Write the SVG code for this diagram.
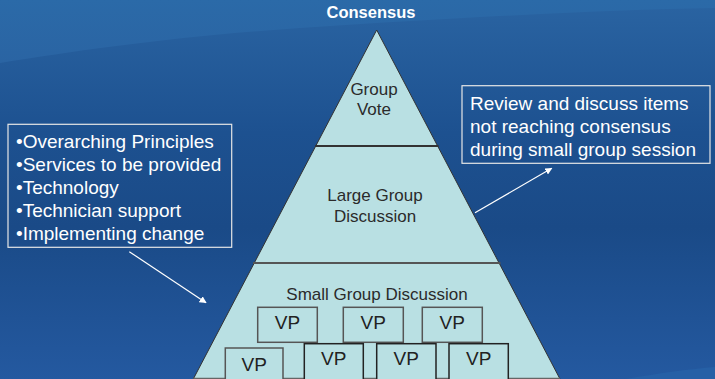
<svg xmlns="http://www.w3.org/2000/svg" width="715" height="379" viewBox="0 0 715 379">
<defs>
<linearGradient id="bg" x1="0" y1="0" x2="0" y2="1">
<stop offset="0" stop-color="#2a64a2"/>
<stop offset="0.35" stop-color="#1d5190"/>
<stop offset="0.6" stop-color="#1a4a87"/>
<stop offset="1" stop-color="#2459a0"/>
</linearGradient>
<linearGradient id="hi" x1="0" y1="0" x2="0" y2="1">
<stop offset="0" stop-color="#2b6aa8"/>
<stop offset="1" stop-color="#2a64a3"/>
</linearGradient>
<marker id="ah" viewBox="0 0 10 10" refX="9" refY="5" markerWidth="7" markerHeight="7" orient="auto" markerUnits="userSpaceOnUse">
<path d="M0,0 L10,5 L0,10 z" fill="#ffffff"/>
</marker>
<style>
.lbl{font-family:"Liberation Sans",Arial,sans-serif;fill:#2b2b2b;font-size:17px;text-anchor:middle}
.vp{font-family:"Liberation Sans",Arial,sans-serif;fill:#222;font-size:19px;text-anchor:middle}
.box{fill:none;stroke:#e6e6e6;stroke-width:1.2}
.wt{font-family:"Liberation Sans",Arial,sans-serif;fill:#ffffff;font-size:19px}
.vpb{fill:#b9e0e3;stroke:#555;stroke-width:1.5}
.vpd{fill:#b9e0e3;stroke:#222;stroke-width:1.5}
.arr{stroke:#ffffff;stroke-width:1.2;fill:none}
</style>
</defs>
<rect x="0" y="0" width="715" height="379" fill="url(#bg)"/>
<path d="M0,0 L715,0 L715,8 C600,10 450,18 300,28 C180,36 80,50 0,63 Z" fill="url(#hi)"/>
<path d="M626,379 C660,373 690,369 715,367 L715,379 Z" fill="#2660a6"/>

<text x="371" y="18" font-family="Liberation Sans,Arial,sans-serif" font-size="16.5" font-weight="bold" fill="#ffffff" text-anchor="middle">Consensus</text>

<g id="pyramid">
<path d="M376.7,30 L560,379 L193.3,379 Z" fill="#b9e0e3" stroke="#333" stroke-width="1"/>
<line x1="315" y1="146" x2="438.5" y2="146" stroke="#333" stroke-width="2"/>
<line x1="253" y1="263" x2="500.5" y2="263" stroke="#555" stroke-width="2"/>
<line x1="193.3" y1="378.5" x2="560" y2="378.5" stroke="#666" stroke-width="1.5"/>
</g>

<g id="group-vote">
<text class="lbl" x="374" y="95">Group</text>
<text class="lbl" x="374" y="114.5">Vote</text>
</g>

<g id="large-group">
<text class="lbl" x="375" y="200.5">Large Group</text>
<text class="lbl" x="375" y="221.5">Discussion</text>
</g>

<g id="small-group">
<text class="lbl" x="377" y="299.5">Small Group Discussion</text>
</g>

<g id="vp1"><rect class="vpb" x="257.7" y="307.3" width="59.6" height="35"/><text class="vp" x="287.5" y="328.5">VP</text></g>
<g id="vp2"><rect class="vpb" x="343.3" y="307.3" width="60" height="35"/><text class="vp" x="373.3" y="328.5">VP</text></g>
<g id="vp3"><rect class="vpb" x="422.3" y="307.3" width="60" height="35"/><text class="vp" x="452.3" y="328.5">VP</text></g>
<g id="vp4"><rect class="vpb" x="225.3" y="348" width="57.7" height="35"/><text class="vp" x="254.2" y="371">VP</text></g>
<g id="vp5"><rect class="vpd" x="304.3" y="343.7" width="59" height="40"/><text class="vp" x="333.8" y="365">VP</text></g>
<g id="vp6"><rect class="vpd" x="376.7" y="343.7" width="59.3" height="40"/><text class="vp" x="406.3" y="365">VP</text></g>
<g id="vp7"><rect class="vpd" x="449" y="343.7" width="59.3" height="40"/><text class="vp" x="478.7" y="365">VP</text></g>

<g id="topics-box">
<rect class="box" x="8" y="124.3" width="223.7" height="123"/>
<text class="wt" x="16" y="147.5">•Overarching Principles</text>
<text class="wt" x="16" y="170.5">•Services to be provided</text>
<text class="wt" x="16" y="193.5">•Technology</text>
<text class="wt" x="16" y="216.5">•Technician support</text>
<text class="wt" x="16" y="239.5">•Implementing change</text>
</g>

<g id="review-box">
<rect class="box" x="462" y="85.7" width="248" height="77.6"/>
<text class="wt" x="470" y="109.5">Review and discuss items</text>
<text class="wt" x="470" y="132.5">not reaching consensus</text>
<text class="wt" x="470" y="155.5">during small group session</text>
</g>

<g id="connectors">
<line class="arr" x1="129.3" y1="251.7" x2="206" y2="302.7" marker-end="url(#ah)"/>
<line class="arr" x1="475" y1="212.7" x2="551.7" y2="168.3" marker-end="url(#ah)"/>
</g>
</svg>
